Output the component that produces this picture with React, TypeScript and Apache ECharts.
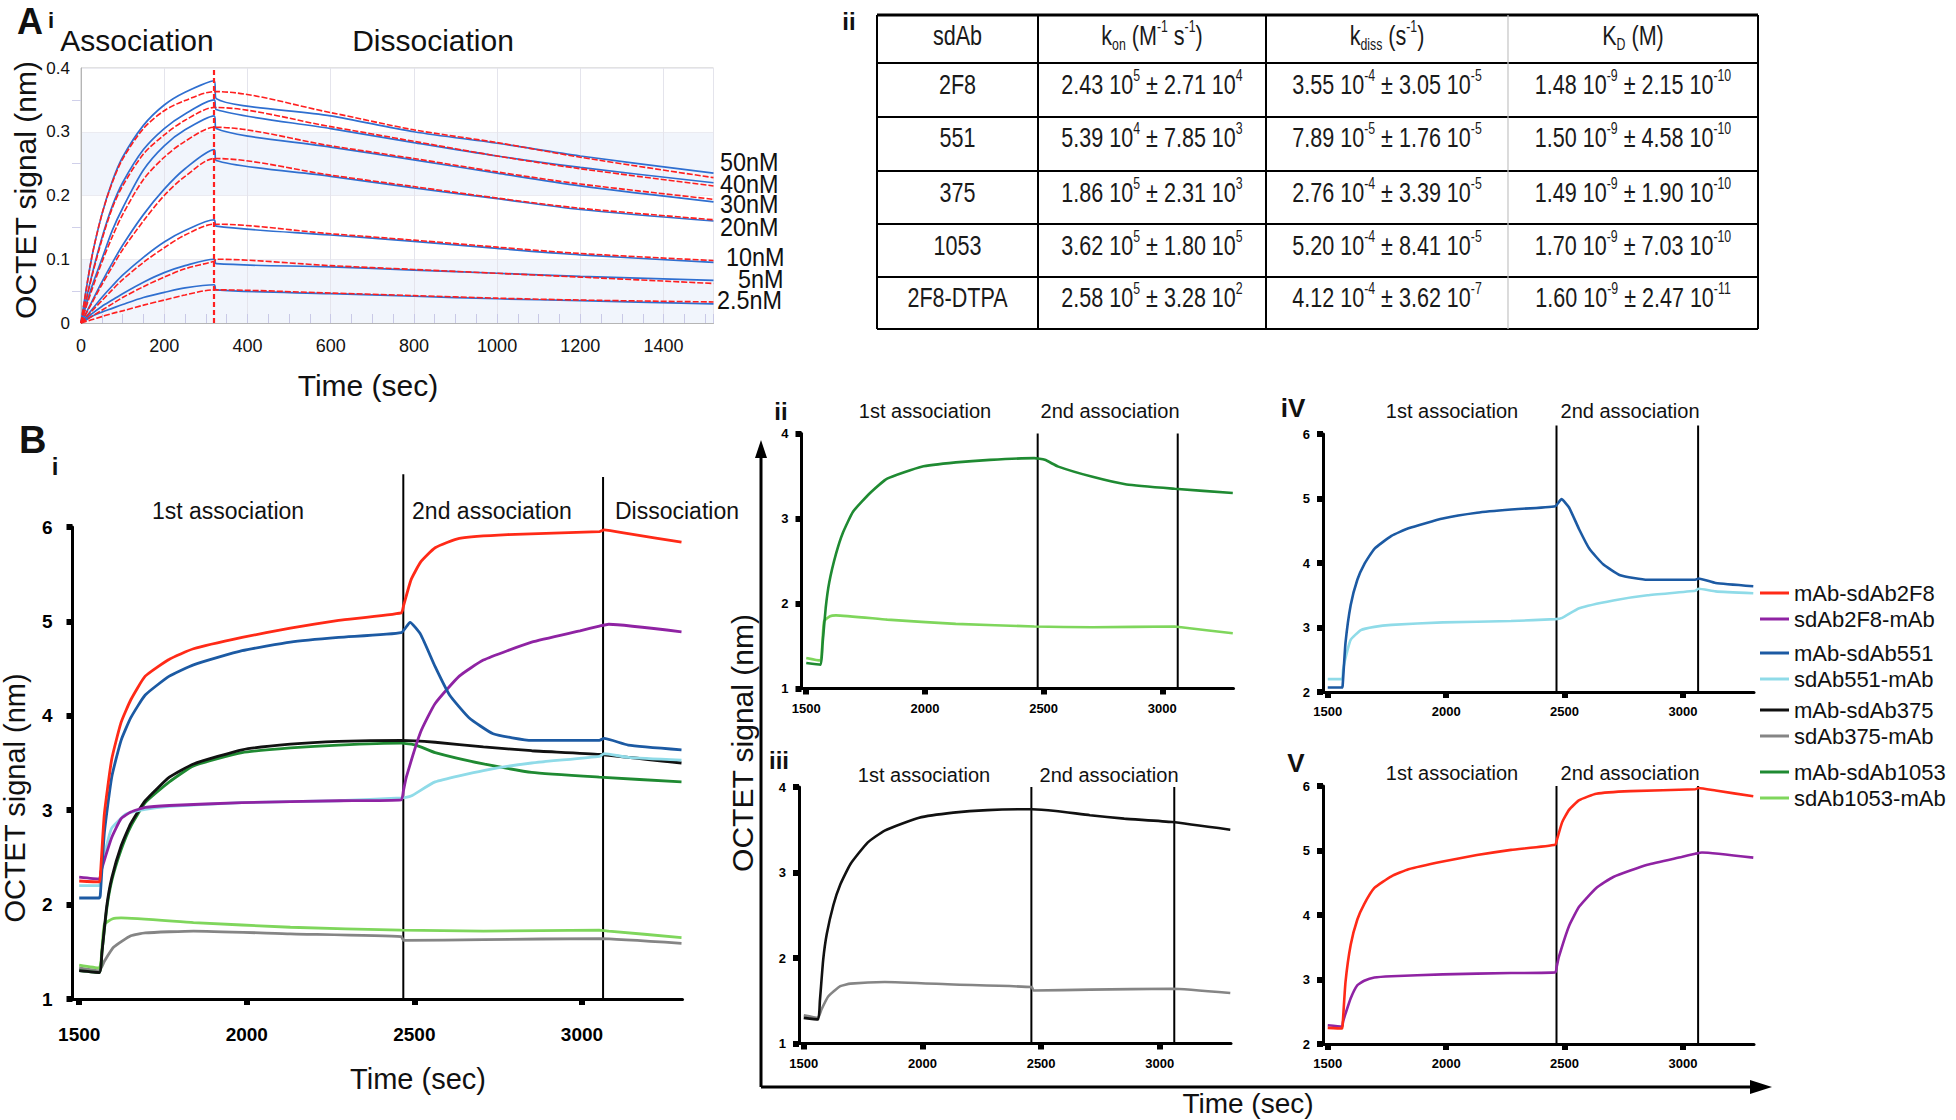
import React, { useEffect, useRef } from "react";
import * as echarts from "echarts";

const SANS = "'Liberation Sans', Arial, Helvetica, sans-serif";

// ---------------- Panel A i : kinetics at several concentrations ----------------
const concLabels = ["50nM", "40nM", "30nM", "20nM", "10nM", "5nM", "2.5nM"];
const assocTimes = [0, 25, 50, 75, 100, 150, 200, 250, 320];
const dissocTimes = [325, 600, 800, 1000, 1200, 1520];
const injectionEnd = 320;

const measuredAssoc = [
  [0, 0.1, 0.17, 0.222, 0.26, 0.31, 0.342, 0.362, 0.38],
  [0, 0.072, 0.133, 0.183, 0.22, 0.272, 0.305, 0.328, 0.35],
  [0, 0.055, 0.1, 0.145, 0.18, 0.24, 0.278, 0.303, 0.325],
  [0, 0.032, 0.064, 0.094, 0.122, 0.17, 0.21, 0.242, 0.272],
  [0, 0.02, 0.04, 0.058, 0.075, 0.103, 0.127, 0.145, 0.162],
  [0, 0.014, 0.026, 0.036, 0.046, 0.064, 0.079, 0.09, 0.1],
  [0, 0.01, 0.017, 0.023, 0.029, 0.04, 0.048, 0.055, 0.06],
];
const fitAssoc = [
  [0, 0.1, 0.17, 0.22, 0.257, 0.305, 0.333, 0.349, 0.363],
  [0, 0.07, 0.13, 0.18, 0.215, 0.265, 0.295, 0.318, 0.338],
  [0, 0.05, 0.095, 0.135, 0.17, 0.225, 0.26, 0.285, 0.307],
  [0, 0.03, 0.06, 0.088, 0.115, 0.16, 0.2, 0.23, 0.258],
  [0, 0.018, 0.035, 0.052, 0.068, 0.095, 0.118, 0.138, 0.155],
  [0, 0.01, 0.02, 0.03, 0.04, 0.057, 0.072, 0.085, 0.097],
  [0, 0.005, 0.01, 0.015, 0.019, 0.028, 0.036, 0.044, 0.052],
];
const measuredDissoc = [
  [0.352, 0.325, 0.3, 0.282, 0.262, 0.235],
  [0.335, 0.305, 0.283, 0.262, 0.244, 0.22],
  [0.305, 0.276, 0.256, 0.235, 0.215, 0.19],
  [0.255, 0.23, 0.212, 0.195, 0.178, 0.16],
  [0.152, 0.138, 0.128, 0.117, 0.107, 0.095],
  [0.093, 0.088, 0.083, 0.078, 0.073, 0.067],
  [0.052, 0.046, 0.042, 0.038, 0.035, 0.03],
];
const fitDissoc = [
  [0.363, 0.33, 0.303, 0.283, 0.26, 0.228],
  [0.338, 0.308, 0.285, 0.262, 0.242, 0.215],
  [0.307, 0.278, 0.258, 0.237, 0.218, 0.194],
  [0.258, 0.232, 0.214, 0.196, 0.18, 0.162],
  [0.155, 0.14, 0.13, 0.119, 0.109, 0.098],
  [0.1, 0.09, 0.084, 0.078, 0.072, 0.062],
  [0.052, 0.047, 0.043, 0.039, 0.036, 0.033],
];

// ---------------- Panel A ii : kinetic constants table ----------------
const tableHeaders = ["{n|sdAb}", "{n|k}{b|on}{n| (M}{p|-1}{n| s}{p|-1}{n|)}", "{n|k}{b|diss}{n| (s}{p|-1}{n|)}", "{n|K}{b|D}{n| (M)}"];
const sdAbNames = ["2F8", "551", "375", "1053", "2F8-DTPA"];
// [mantissa, exponent, error mantissa, error exponent]
const konValues = [
  ["2.43", "5", "2.71", "4"],
  ["5.39", "4", "7.85", "3"],
  ["1.86", "5", "2.31", "3"],
  ["3.62", "5", "1.80", "5"],
  ["2.58", "5", "3.28", "2"],
];
const kdissValues = [
  ["3.55", "-4", "3.05", "-5"],
  ["7.89", "-5", "1.76", "-5"],
  ["2.76", "-4", "3.39", "-5"],
  ["5.20", "-4", "8.41", "-5"],
  ["4.12", "-4", "3.62", "-7"],
];
const kdValues = [
  ["1.48", "-9", "2.15", "-10"],
  ["1.50", "-9", "4.58", "-10"],
  ["1.49", "-9", "1.90", "-10"],
  ["1.70", "-9", "7.03", "-10"],
  ["1.60", "-9", "2.47", "-11"],
];

// ---------------- Panel B : sandwich binding traces [time (s), signal (nm)] ----------------
const mAbSdAb2F8 = [
  [1500, 2.25], [1560, 2.24], [1563, 2.3], [1575, 2.96], [1597, 3.54], [1625, 3.93], [1654, 4.17], [1697, 4.42],
  [1769, 4.6], [1841, 4.71], [1986, 4.83], [2130, 4.93], [2274, 5.01], [2461, 5.09], [2468, 5.17], [2490, 5.44],
  [2519, 5.63], [2562, 5.78], [2634, 5.88], [2778, 5.92], [3052, 5.95], [3066, 5.97], [3138, 5.93], [3297, 5.84],
];
const sdAb2F8MAb = [
  [1500, 2.29], [1560, 2.27], [1565, 2.35], [1575, 2.47], [1597, 2.71], [1625, 2.91], [1654, 2.98], [1697, 3.03],
  [1769, 3.05], [1986, 3.08], [2274, 3.1], [2461, 3.11], [2467, 3.2], [2476, 3.35], [2519, 3.83], [2562, 4.13],
  [2634, 4.42], [2706, 4.59], [2850, 4.78], [2994, 4.9], [3052, 4.95], [3080, 4.97], [3297, 4.89],
];
const mAbSdAb551 = [
  [1500, 2.07], [1560, 2.07], [1563, 2.1], [1575, 2.76], [1597, 3.35], [1625, 3.74], [1654, 3.98], [1697, 4.22],
  [1769, 4.42], [1841, 4.54], [1986, 4.69], [2130, 4.78], [2274, 4.83], [2461, 4.88], [2487, 4.99], [2519, 4.86],
  [2562, 4.52], [2605, 4.22], [2663, 3.98], [2735, 3.81], [2850, 3.74], [3052, 3.74], [3066, 3.76], [3138, 3.69], [3297, 3.64],
];
const sdAb551MAb = [
  [1500, 2.2], [1560, 2.2], [1565, 2.35], [1580, 2.6], [1597, 2.81], [1640, 2.96], [1697, 3.01], [1769, 3.04],
  [1986, 3.08], [2274, 3.1], [2461, 3.13], [2490, 3.15], [2562, 3.3], [2706, 3.42], [2850, 3.5], [3052, 3.57],
  [3066, 3.6], [3138, 3.56], [3297, 3.53],
];
const mAbSdAb375 = [
  [1500, 1.3], [1560, 1.28], [1568, 1.5], [1582, 1.98], [1597, 2.28], [1625, 2.62], [1654, 2.86], [1697, 3.1],
  [1769, 3.35], [1841, 3.49], [1986, 3.64], [2130, 3.7], [2274, 3.73], [2461, 3.74], [2562, 3.72], [2706, 3.67],
  [2850, 3.63], [3052, 3.59], [3297, 3.5],
];
const sdAb375MAb = [
  [1500, 1.33], [1560, 1.3], [1575, 1.4], [1603, 1.55], [1654, 1.67], [1697, 1.7], [1841, 1.72], [2130, 1.69],
  [2461, 1.66], [2468, 1.62], [2706, 1.63], [3052, 1.64], [3297, 1.59],
];
const mAbSdAb1053 = [
  [1500, 1.3], [1560, 1.28], [1568, 1.5], [1582, 1.95], [1597, 2.25], [1625, 2.58], [1654, 2.83], [1697, 3.08],
  [1769, 3.3], [1841, 3.47], [1986, 3.61], [2130, 3.66], [2274, 3.69], [2461, 3.71], [2505, 3.69], [2562, 3.61],
  [2706, 3.49], [2850, 3.4], [3052, 3.35], [3297, 3.3],
];
const sdAb1053MAb = [
  [1500, 1.36], [1560, 1.33], [1565, 1.4], [1575, 1.79], [1600, 1.85], [1625, 1.86], [1841, 1.81], [2130, 1.76],
  [2461, 1.73], [2706, 1.72], [3052, 1.73], [3080, 1.72], [3297, 1.65],
];

const bTraces = [
  { name: "mAb-sdAb2F8", color: "#ff2a17", data: mAbSdAb2F8 },
  { name: "sdAb2F8-mAb", color: "#8f23a3", data: sdAb2F8MAb },
  { name: "mAb-sdAb551", color: "#1c5aa3", data: mAbSdAb551 },
  { name: "sdAb551-mAb", color: "#8fdbe8", data: sdAb551MAb },
  { name: "mAb-sdAb375", color: "#111111", data: mAbSdAb375 },
  { name: "sdAb375-mAb", color: "#858585", data: sdAb375MAb },
  { name: "mAb-sdAb1053", color: "#1f8a32", data: mAbSdAb1053 },
  { name: "sdAb1053-mAb", color: "#7fd65c", data: sdAb1053MAb },
];
const bXTicks = [1500, 2000, 2500, 3000];
const legendGroups = [
  ["mAb-sdAb2F8", "sdAb2F8-mAb"],
  ["mAb-sdAb551", "sdAb551-mAb"],
  ["mAb-sdAb375", "sdAb375-mAb"],
  ["mAb-sdAb1053", "sdAb1053-mAb"],
];

// panels of B: grid index, y range, traces drawn, phase boundaries (s), top of boundary lines (nm)
const bPanels = [
  { grid: 1, yMin: 1, yMax: 6, traces: ["sdAb375-mAb", "sdAb1053-mAb", "mAb-sdAb1053", "mAb-sdAb375", "sdAb551-mAb", "sdAb2F8-mAb", "mAb-sdAb551", "mAb-sdAb2F8"], phases: [2467, 3063], lineTop: [6.56, 6.53] },
  { grid: 2, yMin: 1, yMax: 4, traces: ["sdAb1053-mAb", "mAb-sdAb1053"], phases: [2475, 3065], lineTop: [4.0, 4.0] },
  { grid: 3, yMin: 1, yMax: 4, traces: ["sdAb375-mAb", "mAb-sdAb375"], phases: [2459, 3061], lineTop: [4.0, 4.0] },
  { grid: 4, yMin: 2, yMax: 6, traces: ["sdAb551-mAb", "mAb-sdAb551"], phases: [2466, 3064], lineTop: [6.13, 6.13] },
  { grid: 5, yMin: 2, yMax: 6, traces: ["sdAb2F8-mAb", "mAb-sdAb2F8"], phases: [2466, 3064], lineTop: [6.0, 6.0] },
];

// ---------------- layout ----------------
const grids = [
  { left: 81, top: 68, width: 632.5, height: 255 },
  { left: 72.5, top: 527, width: 610, height: 472 },
  { left: 801.5, top: 433.5, width: 432, height: 255 },
  { left: 799, top: 787, width: 432, height: 256.5 },
  { left: 1323, top: 434, width: 431, height: 258 },
  { left: 1323, top: 786, width: 431, height: 258 },
];

function buildOption(): any {
  const xAxis: any[] = [];
  const yAxis: any[] = [];
  const series: any[] = [];
  const plain = (v: number) => String(v);

  // Panel A i axes
  xAxis.push({
    gridIndex: 0, type: "value", min: 0, max: 1520, interval: 200,
    axisLine: { show: true, lineStyle: { color: "#b5b5b5", width: 1 } },
    axisTick: { show: true, inside: true, length: 9, lineStyle: { color: "#c9c9e6" } },
    minorTick: { show: true, splitNumber: 4, length: 9, lineStyle: { color: "#c9c9e6" } },
    axisLabel: { fontSize: 18, fontFamily: SANS, color: "#111", margin: 14, showMaxLabel: false, formatter: plain },
    splitLine: { show: true, lineStyle: { color: "#e4e4ec", width: 1 } },
  });
  yAxis.push({
    gridIndex: 0, type: "value", min: 0, max: 0.4, interval: 0.1,
    axisLine: { show: true, lineStyle: { color: "#b5b5b5", width: 1 } },
    axisTick: { show: false },
    minorTick: { show: true, splitNumber: 2, length: 9, lineStyle: { color: "#d0d0ea" } },
    axisLabel: { fontSize: 17, fontFamily: SANS, color: "#111", margin: 11, formatter: (v: number) => (v === 0 ? "0" : v.toFixed(1)) },
    splitLine: { show: true, lineStyle: { color: "#ebebf1", width: 1 } },
    splitArea: { show: true, areaStyle: { color: ["#f1f5fc", "#ffffff"] } },
  });

  const assocPairs = (vals: number[]) => assocTimes.map((t, i) => [t, vals[i]]);
  const dissocPairs = (vals: number[]) => dissocTimes.map((t, i) => [t, vals[i]]);

  concLabels.forEach((c, k) => {
    series.push({
      type: "line", name: "measured " + c, xAxisIndex: 0, yAxisIndex: 0, showSymbol: false, symbol: "none", silent: true,
      smooth: 0.3,
      lineStyle: { color: "#2f6fd0", width: 1.7 },
      data: [...assocPairs(measuredAssoc[k]), ...dissocPairs(measuredDissoc[k])],
    });
  });
  concLabels.forEach((c, k) => {
    const s: any = {
      type: "line", name: "fit " + c, xAxisIndex: 0, yAxisIndex: 0, showSymbol: false, symbol: "none", silent: true,
      smooth: 0.3,
      lineStyle: { color: "#ff1f1f", width: 1.6, type: [6, 2] },
      data: [...assocPairs(fitAssoc[k]), ...dissocPairs(fitDissoc[k])],
    };
    if (k === 0) {
      s.markLine = {
        symbol: ["none", "none"], silent: true, label: { show: false },
        lineStyle: { color: "#ff1f1f", width: 2.2, type: [5, 3] },
        data: [{ xAxis: injectionEnd }],
      };
    }
    series.push(s);
  });

  // Panel B axes + series
  bPanels.forEach((p) => {
    const big = p.grid === 1;
    xAxis.push({
      gridIndex: p.grid, type: "value", min: 1480, max: 3300,
      axisLine: { show: true, onZero: false, lineStyle: { color: "#000", width: 3 } },
      axisTick: { show: true, length: 6, lineStyle: { color: "#000", width: 6 }, customValues: bXTicks },
      axisLabel: { customValues: bXTicks, formatter: plain, fontSize: big ? 19 : 13, fontWeight: "bold", fontFamily: SANS, color: "#000", margin: big ? 26 : 13 },
      splitLine: { show: false },
    });
    yAxis.push({
      gridIndex: p.grid, type: "value", min: p.yMin, max: p.yMax, interval: 1,
      axisLine: { show: true, onZero: false, lineStyle: { color: "#000", width: 3 } },
      axisTick: { show: true, length: 6, lineStyle: { color: "#000", width: 6 } },
      axisLabel: { fontSize: big ? 19 : 13, fontWeight: "bold", fontFamily: SANS, color: "#000", margin: big ? 20 : 13 },
      splitLine: { show: false },
    });
    p.traces.forEach((nm) => {
      const tr = bTraces.find((b) => b.name === nm)!;
      series.push({
        type: "line", name: tr.name, xAxisIndex: p.grid, yAxisIndex: p.grid, showSymbol: false, symbol: "none", silent: true,
        smooth: 0.15,
        color: tr.color, itemStyle: { color: tr.color },
        lineStyle: { color: tr.color, width: big ? 2.8 : 2.6 },
        data: tr.data,
      });
    });
  });

  const legendTops = [582, 642, 699, 761];
  const legend = legendGroups.map((names, i) => ({
    orient: "vertical", left: 1760, top: legendTops[i], padding: 0,
    itemWidth: 29, itemHeight: 3, itemGap: 4, icon: "rect", selectedMode: false,
    textStyle: { fontSize: 22, fontFamily: SANS, color: "#111", lineHeight: 22 },
    data: names,
  }));

  return {
    animation: false,
    backgroundColor: "#ffffff",
    grid: grids.map((g, i) => ({ ...g, containLabel: false, show: i === 0, borderColor: "#c4c4c4", borderWidth: 1, backgroundColor: "transparent" })),
    xAxis, yAxis, series, legend,
  };
}

function buildGraphics(chart: any): any[] {
  const els: any[] = [];
  const text = (x: number, y: number, t: string, size: number, o: any = {}) => {
    els.push({
      type: "text", x, y, rotation: o.rot || 0, scaleX: o.sx || 1, silent: true,
      style: {
        text: t, fontSize: size, fontFamily: SANS, fontWeight: o.weight || "normal",
        fill: o.fill || "#111", align: o.align || "center", verticalAlign: o.va || "middle", rich: o.rich,
      },
    });
  };
  const line = (x1: number, y1: number, x2: number, y2: number, w: number, c = "#000") => {
    els.push({ type: "line", silent: true, shape: { x1, y1, x2, y2 }, style: { stroke: c, lineWidth: w } });
  };

  // ----- Panel A i labels
  text(17, 21, "A", 36, { weight: "bold", align: "left" });
  text(48, 20, "i", 22, { weight: "bold", align: "left" });
  text(137, 40, "Association", 30);
  text(433, 40, "Dissociation", 30);
  text(25, 190, "OCTET signal (nm)", 30, { rot: Math.PI / 2 });
  text(368, 385, "Time (sec)", 30);
  const concLabelPos = [[720, 162], [720, 184], [720, 204], [720, 227], [726, 257], [738, 279], [717, 300]];
  concLabels.forEach((c, i) => text(concLabelPos[i][0], concLabelPos[i][1], c, 26, { align: "left", sx: 0.9 }));

  // ----- Panel A ii table
  text(849, 21, "ii", 24, { weight: "bold" });
  const colX = [877, 1038, 1266, 1508, 1758];
  const rowY = [15, 63, 117, 171, 224, 277, 329];
  rowY.forEach((y, i) => line(colX[0], y, colX[4], y, i === 0 ? 3 : 2.2));
  colX.forEach((x, i) => line(x, rowY[0], x, rowY[rowY.length - 1], i === 3 ? 1.2 : 2, i === 3 ? "#c4c4c4" : "#000"));
  const rich = {
    n: { fontSize: 28, fontFamily: SANS, lineHeight: 34, verticalAlign: "middle", fill: "#1a1a1a" },
    p: { fontSize: 16, fontFamily: SANS, lineHeight: 16, verticalAlign: "top", fill: "#1a1a1a" },
    b: { fontSize: 16, fontFamily: SANS, lineHeight: 16, verticalAlign: "bottom", fill: "#1a1a1a" },
  };
  const colCenters = colX.slice(0, 4).map((x, i) => (x + colX[i + 1]) / 2);
  const textRowY = [35, 84, 137, 192, 245, 297];
  const TS = 0.77;
  tableHeaders.forEach((h, c) => text(colCenters[c], textRowY[0], h, 28, { rich, sx: TS }));
  const sci = (v: string[]) => `{n|${v[0]} 10}{p|${v[1]}}{n| ± ${v[2]} 10}{p|${v[3]}}`;
  sdAbNames.forEach((nm, r) => {
    const y = textRowY[r + 1];
    text(colCenters[0], y, `{n|${nm}}`, 28, { rich, sx: TS });
    text(colCenters[1], y, sci(konValues[r]), 28, { rich, sx: TS });
    text(colCenters[2], y, sci(kdissValues[r]), 28, { rich, sx: TS });
    text(colCenters[3], y, sci(kdValues[r]), 28, { rich, sx: TS });
  });

  // ----- Panel B labels
  text(19, 440, "B", 38, { weight: "bold", align: "left" });
  text(55, 466, "i", 24, { weight: "bold" });
  text(228, 511, "1st association", 23);
  text(492, 511, "2nd association", 23);
  text(677, 511, "Dissociation", 23);
  text(15, 798, "OCTET signal (nm)", 29, { rot: Math.PI / 2 });
  text(418, 1079, "Time (sec)", 29);

  text(781, 411, "ii", 24, { weight: "bold" });
  text(925, 411, "1st association", 20);
  text(1110, 411, "2nd association", 20);
  text(779, 760, "iii", 24, { weight: "bold" });
  text(924, 775, "1st association", 20);
  text(1109, 775, "2nd association", 20);
  text(1293, 408, "iV", 26, { weight: "bold" });
  text(1452, 411, "1st association", 20);
  text(1630, 411, "2nd association", 20);
  text(1296, 763, "V", 26, { weight: "bold" });
  text(1452, 773, "1st association", 20);
  text(1630, 773, "2nd association", 20);

  // big shared axes of ii-V
  line(761, 452, 761, 1087, 3);
  els.push({ type: "polygon", silent: true, shape: { points: [[761, 440], [755, 458], [767, 458]] }, style: { fill: "#000" } });
  line(761, 1087, 1755, 1087, 3);
  els.push({ type: "polygon", silent: true, shape: { points: [[1772, 1087], [1750, 1080], [1750, 1094]] }, style: { fill: "#000" } });
  text(742, 743, "OCTET signal (nm)", 30, { rot: Math.PI / 2 });
  text(1248, 1103, "Time (sec)", 28);

  // phase boundary lines via the chart's own scales
  bPanels.forEach((p) => {
    p.phases.forEach((t, i) => {
      const top = chart.convertToPixel({ gridIndex: p.grid }, [t, p.lineTop[i]]);
      const bot = chart.convertToPixel({ gridIndex: p.grid }, [t, p.yMin]);
      line(top[0], top[1], bot[0], bot[1], 2);
    });
  });

  return els;
}

export default function App() {
  const ref = useRef<HTMLDivElement>(null);
  useEffect(() => {
    const chart = echarts.init(ref.current!, null, { renderer: "svg" });
    chart.setOption(buildOption());
    chart.setOption({ graphic: { elements: buildGraphics(chart) } });
    return () => chart.dispose();
  }, []);
  return (
    <div
      ref={ref}
      style={{ position: "fixed", left: 0, top: 0, width: 1956, height: 1120, background: "#fff" }}
    />
  );
}
